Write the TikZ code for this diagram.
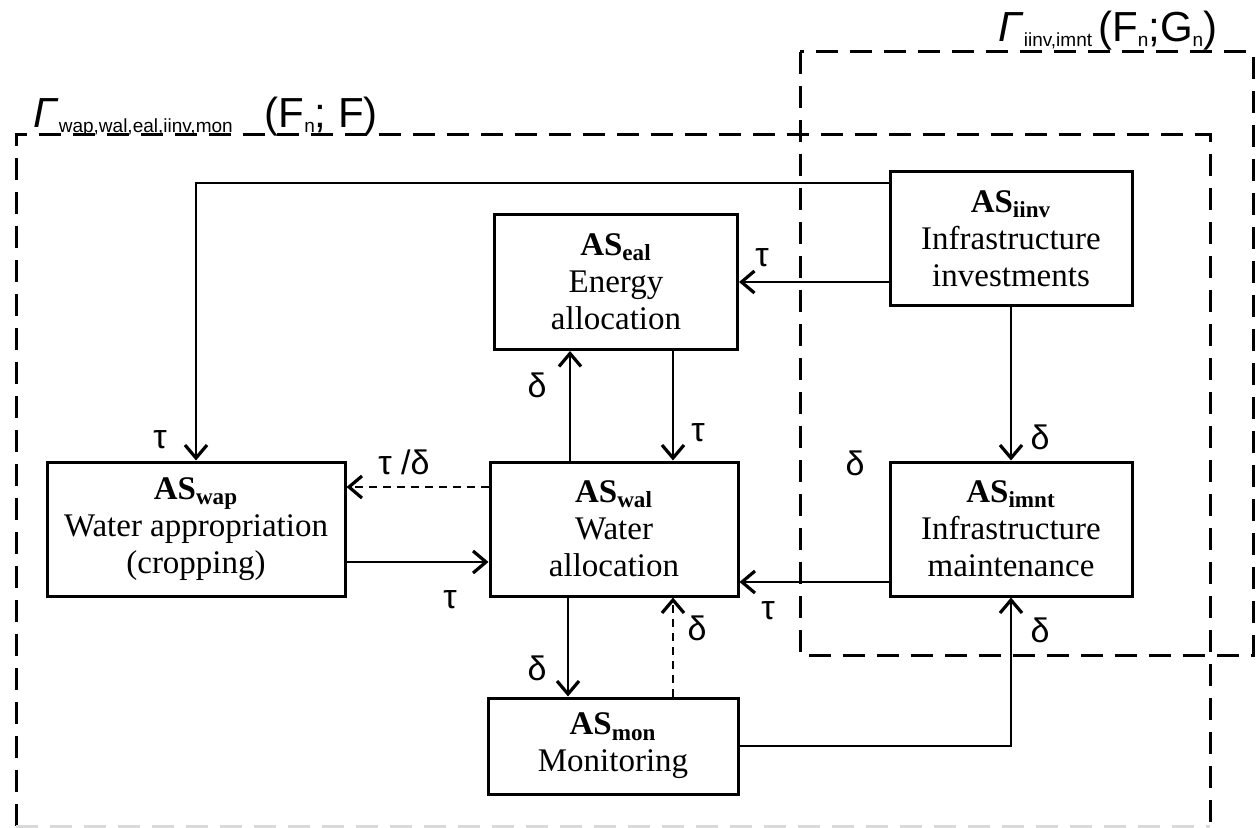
\documentclass[tikz,border=0pt]{standalone}
\usepackage{fontspec}
\setmainfont{Liberation Serif}
\setsansfont{Liberation Sans}
\usetikzlibrary{arrows.meta}
\newcommand{\asn}[1]{\textbf{AS}\textsubscript{\textbf{#1}}}
\newcommand{\lowsub}[1]{\raisebox{-0.2ex}{\fontsize{9.5}{9.5}\selectfont #1}}

\tikzset{
  asbox/.style={draw, line width=1.5pt, align=center, inner sep=0pt, font=\fontsize{16.5}{18.5}\selectfont},
  flow/.style={line width=0.75pt, -{Straight Barb[length=6.5pt,width=11pt,line width=1.6pt]}},
  gamebox/.style={line width=1.5pt, dash pattern=on 11pt off 6pt},
  lbl/.style={font=\sffamily\fontsize{17}{17}\selectfont, inner sep=1pt},
  gamelbl/.style={font=\sffamily\fontsize{21}{21}\selectfont, anchor=base west, inner sep=0pt}
}

\begin{document}
\begin{tikzpicture}[x=0.5pt,y=-0.5pt]
\useasboundingbox (0,0) rectangle (1256,828);
\draw[gamebox] (16,826) -- (16,135) -- (1210,135) -- (1210,826);
\draw[gamebox,black!15] (16,826) -- (1210,826);
\draw[gamebox] (800,52) rectangle (1253,655);
\node[gamelbl] (gbig) at (33,128) {\textit{Γ}\lowsub{wap,wal,eal,iinv,mon}\hspace{16pt}(F\lowsub{n}; F)};
\node[gamelbl] (ginf) at (998,42) {\textit{Γ}\lowsub{iinv,imnt}\hspace{3pt}(F\lowsub{n};G\lowsub{n})};

\node[asbox, minimum width=121pt, minimum height=67pt] (iinv) at (1011,239) {\asn{iinv}\\Infrastructure\\investments};
\node[asbox, minimum width=121.5pt, minimum height=67.5pt] (eal) at (616,282) {\asn{eal}\\Energy\\allocation};
\node[asbox, minimum width=149pt, minimum height=67pt] (wap) at (196,529) {\asn{wap}\\Water appropriation\\(cropping)};
\node[asbox, minimum width=124pt, minimum height=67pt] (wal) at (614,529) {\asn{wal}\\Water\\allocation};
\node[asbox, minimum width=121pt, minimum height=67pt] (imnt) at (1011,529) {\asn{imnt}\\Infrastructure\\maintenance};
\node[asbox, minimum width=125pt, minimum height=48pt] (mon) at (613,746) {\asn{mon}\\Monitoring};

\coordinate (bend) at (196,183);
\draw[flow] (iinv.west |- bend) -| (wap.north);
\draw[flow] (iinv.west |- eal.east) -- (eal.east);
\draw[flow] (iinv) -- (imnt);
\draw[flow] ([xshift=-22pt]wal.north) -- ([xshift=-22pt]wal.north |- eal.south);
\draw[flow] ([xshift=28.5pt]eal.south) -- ([xshift=28.5pt]eal.south |- wal.north);
\draw[flow,dash pattern=on 4pt off 3pt] ([yshift=21pt]wal.west) -- ([yshift=21pt]wal.west -| wap.east);
\draw[flow] ([yshift=-16.5pt]wap.east) -- ([yshift=-16.5pt]wap.east -| wal.west);
\draw[flow] ([yshift=-26.5pt]imnt.west) -- ([yshift=-26.5pt]imnt.west -| wal.east);
\draw[flow] ([xshift=-23pt]wal.south) -- ([xshift=-23pt]wal.south |- mon.north);
\draw[flow,dash pattern=on 4pt off 3pt] ([xshift=30pt]mon.north) -- ([xshift=30pt]mon.north |- wal.south);
\draw[flow] (mon.east) -| (imnt.south);

\node[lbl] (t1) at (160,440) {τ};
\node[lbl] (t2) at (762,258) {τ};
\node[lbl] (d1) at (1040,437) {δ};
\node[lbl] (d2) at (855,463) {δ};
\node[lbl] (d3) at (537,385) {δ};
\node[lbl] (t3) at (698,433) {τ};
\node[lbl] (td) at (404,462) {τ /δ};
\node[lbl] (t4) at (450,600) {τ};
\node[lbl] (t5) at (768,611) {τ};
\node[lbl] (d4) at (537,668) {δ};
\node[lbl] (d5) at (697,628) {δ};
\node[lbl] (d6) at (1040,630) {δ};
\end{tikzpicture}
\end{document}
